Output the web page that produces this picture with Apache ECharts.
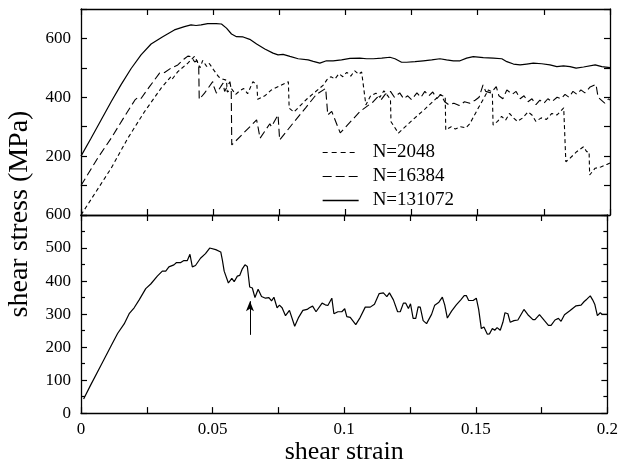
<!DOCTYPE html>
<html><head><meta charset="utf-8">
<script src="https://cdn.jsdelivr.net/npm/echarts@6/dist/echarts.min.js"></script>
<style>html,body{margin:0;padding:0;background:#fff}#c{width:621px;height:466px}</style>
</head><body><div id="c"></div>
<script>
// ---- top panel: N=2048 ----
const strain2048 = [0,0.0114,0.0177,0.024,0.0303,0.034,0.0345,0.0366,0.0404,0.0429,0.0435,0.045,0.046,0.0475,0.0485,0.05,0.052,0.0535,0.055,0.0553,0.057,0.0585,0.06,0.0615,0.063,0.065,0.0665,0.0668,0.0695,0.072,0.0784,0.0787,0.0805,0.0855,0.0917,0.093,0.0945,0.096,0.0975,0.099,0.1005,0.102,0.1035,0.105,0.1061,0.1077,0.1095,0.1115,0.113,0.1145,0.116,0.117,0.1172,0.12,0.125,0.13,0.1357,0.1377,0.1379,0.14,0.1415,0.1435,0.1455,0.147,0.15,0.1525,0.154,0.1555,0.1558,0.1575,0.159,0.1605,0.162,0.1635,0.165,0.167,0.169,0.1705,0.172,0.174,0.176,0.178,0.18,0.1825,0.1833,0.1849,0.1874,0.19,0.1912,0.1921,0.1923,0.1944,0.1965,0.1988,0.2];
const stress2048 = [0,159,261,351,431,470,462,487,516,539,530,500,525,505,515,495,470,462,458,418,428,410,422,430,412,453,443,393,405,425,453,363,350,395,442,460,470,462,480,470,485,472,490,478,486,374,405,414,400,422,405,392,317,278,320,360,408,402,289,300,292,300,296,310,360,400,425,418,306,318,335,322,345,330,318,330,350,340,318,330,325,345,340,364,181,193,215,232,215,215,136,159,163,172,177];
// ---- top panel: N=16384 ----
const strain16384 = [0,0.0063,0.0114,0.0164,0.0204,0.0215,0.0227,0.0259,0.0297,0.0316,0.034,0.0366,0.0391,0.0404,0.0416,0.043,0.0438,0.0445,0.0447,0.0467,0.0498,0.0503,0.0512,0.0537,0.0543,0.0563,0.0568,0.057,0.0664,0.0668,0.0677,0.0714,0.072,0.0745,0.0751,0.08,0.085,0.089,0.0925,0.093,0.0933,0.0948,0.098,0.1054,0.1105,0.112,0.1135,0.115,0.117,0.1185,0.1205,0.122,0.1235,0.125,0.127,0.1285,0.13,0.1315,0.133,0.1345,0.136,0.1375,0.139,0.141,0.143,0.145,0.147,0.149,0.1505,0.152,0.153,0.155,0.157,0.158,0.1595,0.161,0.163,0.1645,0.166,0.1675,0.169,0.1705,0.172,0.1735,0.175,0.1765,0.178,0.18,0.1815,0.183,0.1845,0.186,0.1875,0.189,0.1905,0.1925,0.1947,0.1955,0.1965,0.198,0.1995,0.2];
const stress16384 = [100,193,261,334,391,399,396,436,482,484,499,510,531,540,538,520,525,510,393,414,453,435,414,448,420,453,425,238,323,305,261,310,300,340,255,310,365,410,430,425,340,352,279,351,385,400,392,410,420,400,415,395,405,392,415,400,420,405,418,395,410,385,375,380,372,385,380,390,400,442,420,415,436,405,395,425,410,420,395,405,385,395,375,390,380,395,385,400,395,410,400,420,410,425,415,435,444,400,392,380,395,390];
// ---- top panel: N=131072 ----
const strain131072 = [0,0.0038,0.0076,0.0114,0.0151,0.0189,0.0227,0.0265,0.0309,0.0353,0.0391,0.0416,0.0435,0.0454,0.0479,0.0511,0.0531,0.055,0.0569,0.0588,0.0613,0.0638,0.0664,0.0695,0.0726,0.0745,0.0764,0.079,0.0821,0.0859,0.0878,0.0903,0.0928,0.0953,0.0985,0.1017,0.1054,0.108,0.1105,0.1137,0.1168,0.1187,0.1212,0.1231,0.1263,0.1294,0.1326,0.1357,0.1382,0.1408,0.1433,0.1458,0.1483,0.1521,0.1559,0.1591,0.161,0.1635,0.166,0.1685,0.171,0.1742,0.1773,0.1799,0.1824,0.1849,0.1872,0.19,0.1944,0.1969,0.2];
const stress131072 = [200,261,323,385,442,497,544,581,606,629,640,646,644,646,650,650,649,635,615,606,605,597,581,564,550,544,546,539,531,527,522,516,524,524,527,532,533,531,531,533,536,531,519,519,521,524,527,531,527,524,524,533,538,535,533,531,521,513,510,513,516,514,510,504,507,504,499,503,510,504,501];
// ---- bottom panel ----
const strainBottom = [0.001,0.0038,0.0076,0.0114,0.0139,0.0164,0.0183,0.0202,0.0221,0.0246,0.0265,0.029,0.0309,0.0322,0.0334,0.0353,0.0363,0.0379,0.0391,0.0404,0.0414,0.0423,0.0435,0.0454,0.0473,0.0489,0.0512,0.0531,0.0537,0.0544,0.056,0.0573,0.0582,0.0594,0.0603,0.0613,0.0623,0.0632,0.0641,0.0651,0.0661,0.0673,0.0686,0.0701,0.0714,0.0724,0.0733,0.0745,0.0754,0.0764,0.0777,0.0792,0.0812,0.0827,0.0843,0.0859,0.0868,0.088,0.0893,0.0916,0.0928,0.0938,0.0953,0.0961,0.0976,0.0991,0.1002,0.101,0.1023,0.1044,0.1061,0.108,0.1099,0.1115,0.1133,0.1149,0.1162,0.1172,0.1187,0.1203,0.1213,0.1225,0.1234,0.1244,0.1252,0.1262,0.1272,0.1281,0.1289,0.13,0.1313,0.1332,0.1344,0.136,0.1373,0.1382,0.1392,0.1408,0.1426,0.1443,0.1456,0.1464,0.1473,0.149,0.1502,0.1511,0.1521,0.1531,0.1544,0.1552,0.1563,0.1572,0.1581,0.1593,0.1603,0.1611,0.1622,0.1631,0.1645,0.166,0.1683,0.1698,0.1717,0.1725,0.1742,0.1761,0.1776,0.1786,0.1801,0.1814,0.1824,0.1837,0.1856,0.1868,0.1881,0.19,0.1912,0.1922,0.1935,0.1944,0.1952,0.1962,0.1973,0.1981,0.2];
const stressBottom = [43,87,145,203,241,270,301,319,343,377,391,415,430,430,443,449,456,456,462,462,481,443,447,469,483,500,495,488,464,430,394,408,398,415,417,437,449,444,382,379,350,375,353,348,350,340,351,319,327,319,295,311,263,290,311,314,319,324,307,333,328,326,348,301,307,307,316,292,290,268,290,321,321,330,362,364,353,364,343,307,307,333,333,317,331,287,287,322,321,280,271,299,327,336,351,328,288,309,328,343,356,356,341,341,348,314,256,261,239,240,256,251,259,251,275,304,301,275,280,282,314,298,283,283,298,280,266,266,282,287,278,298,309,317,325,327,338,345,355,343,330,295,304,299,299];
// arrow annotation in bottom panel
const arrowStrain = 0.0642, arrowFrom = 237, arrowTo = 339;
// axis ticks
const xTicks = [0, 0.05, 0.1, 0.15, 0.2];
const topYLabels = [200, 400, 600];
const legendNames = ['N=2048', 'N=16384', 'N=131072'];

const zip = (a, b) => a.map((v, i) => [v, b[i]]);
const FONT = '"Liberation Serif","DejaVu Serif",serif';
const black = '#000';
const gridL = 81, gridR = 11;

function xAx(gridIndex, position, showLabel, extra) {
  return Object.assign({
    type: 'value', gridIndex, position, min: 0, max: 0.2, interval: 0.05,
    axisLine: { show: true, onZero: false, lineStyle: { color: black, width: 1.3 } },
    axisTick: { show: true, inside: true, length: 6, lineStyle: { color: black, width: 1.2 } },
    minorTick: { show: true, splitNumber: 2, length: 6, lineStyle: { color: black, width: 1.2 } },
    splitLine: { show: false },
    axisLabel: { show: showLabel, color: black, fontFamily: FONT, fontSize: 17, margin: 8,
      formatter: v => (xTicks.some(t => Math.abs(t - v) < 1e-9) ? String(+v.toFixed(3)) : '') }
  }, extra || {});
}
function yAx(gridIndex, position, max, showLabel, formatter) {
  return {
    type: 'value', gridIndex, position, min: 0, max, interval: 100,
    axisLine: { show: true, onZero: false, lineStyle: { color: black, width: 1.3 } },
    axisTick: { show: true, inside: true, length: 6, lineStyle: { color: black, width: 1.2 } },
    minorTick: { show: gridIndex === 1, splitNumber: 2, length: 4, lineStyle: { color: black, width: 1.2 } },
    splitLine: { show: false },
    axisLabel: { show: showLabel, color: black, fontFamily: FONT, fontSize: 17, margin: 10, formatter,
      showMinLabel: true, showMaxLabel: true }
  };
}

const chart = echarts.init(document.getElementById('c'));
chart.setOption({
  animation: false,
  backgroundColor: '#fff',
  grid: [
    { left: gridL, right: gridR, top: 9, height: 206 },
    { left: gridL, right: gridR, top: 215, height: 207 }
  ],
  xAxis: [
    xAx(0, 'bottom', false),
    xAx(0, 'top', false),
    xAx(1, 'bottom', true, { name: 'shear strain', nameLocation: 'middle', nameGap: 16,
      nameTextStyle: { color: black, fontFamily: FONT, fontSize: 26 } }),
    xAx(1, 'top', false)
  ],
  yAxis: [
    yAx(0, 'left', 700, true, v => (topYLabels.indexOf(v) >= 0 ? String(v) : '')),
    yAx(0, 'right', 700, false),
    yAx(1, 'left', 600, true, v => String(v)),
    yAx(1, 'right', 600, false)
  ],
  legend: {
    orient: 'vertical', left: 317, top: 138, itemWidth: 36, itemHeight: 14, itemGap: 5,
    itemStyle: { color: 'rgba(0,0,0,0)', borderWidth: 0, opacity: 0 },
    textStyle: { color: black, fontFamily: FONT, fontSize: 19, padding: [0, 0, 0, 9] },
    data: [
      { name: legendNames[0], lineStyle: { type: [5, 4], width: 1.1 } },
      { name: legendNames[1], lineStyle: { type: [9, 4], width: 1.1 } },
      { name: legendNames[2], lineStyle: { type: 'solid', width: 1.3 } }
    ]
  },
  graphic: [{
    type: 'text', x: 20, y: 214, rotation: Math.PI / 2,
    style: { text: 'shear stress (MPa)', fill: black, font: '28px ' + FONT, textAlign: 'center', textVerticalAlign: 'middle' }
  }],
  series: [
    { name: legendNames[0], type: 'line', xAxisIndex: 0, yAxisIndex: 0, data: zip(strain2048, stress2048),
      showSymbol: false, symbol: 'none', lineStyle: { color: black, width: 1.1, type: [4, 3] }, itemStyle: { color: black } },
    { name: legendNames[1], type: 'line', xAxisIndex: 0, yAxisIndex: 0, data: zip(strain16384, stress16384),
      showSymbol: false, symbol: 'none', lineStyle: { color: black, width: 1.1, type: [8, 4] }, itemStyle: { color: black } },
    { name: legendNames[2], type: 'line', xAxisIndex: 0, yAxisIndex: 0, data: zip(strain131072, stress131072),
      showSymbol: false, symbol: 'none', lineStyle: { color: black, width: 1.2, type: 'solid' }, itemStyle: { color: black } },
    { name: 'bottom', type: 'line', xAxisIndex: 2, yAxisIndex: 2, data: zip(strainBottom, stressBottom),
      showSymbol: false, symbol: 'none', lineStyle: { color: black, width: 1.2 }, itemStyle: { color: black },
      markLine: { silent: true, symbol: ['none', 'arrow'], symbolSize: [6, 10], label: { show: false },
        lineStyle: { color: black, width: 1, type: 'solid' },
        data: [[{ coord: [arrowStrain, arrowFrom] }, { coord: [arrowStrain, arrowTo] }]] } }
  ]
});
</script></body></html>
